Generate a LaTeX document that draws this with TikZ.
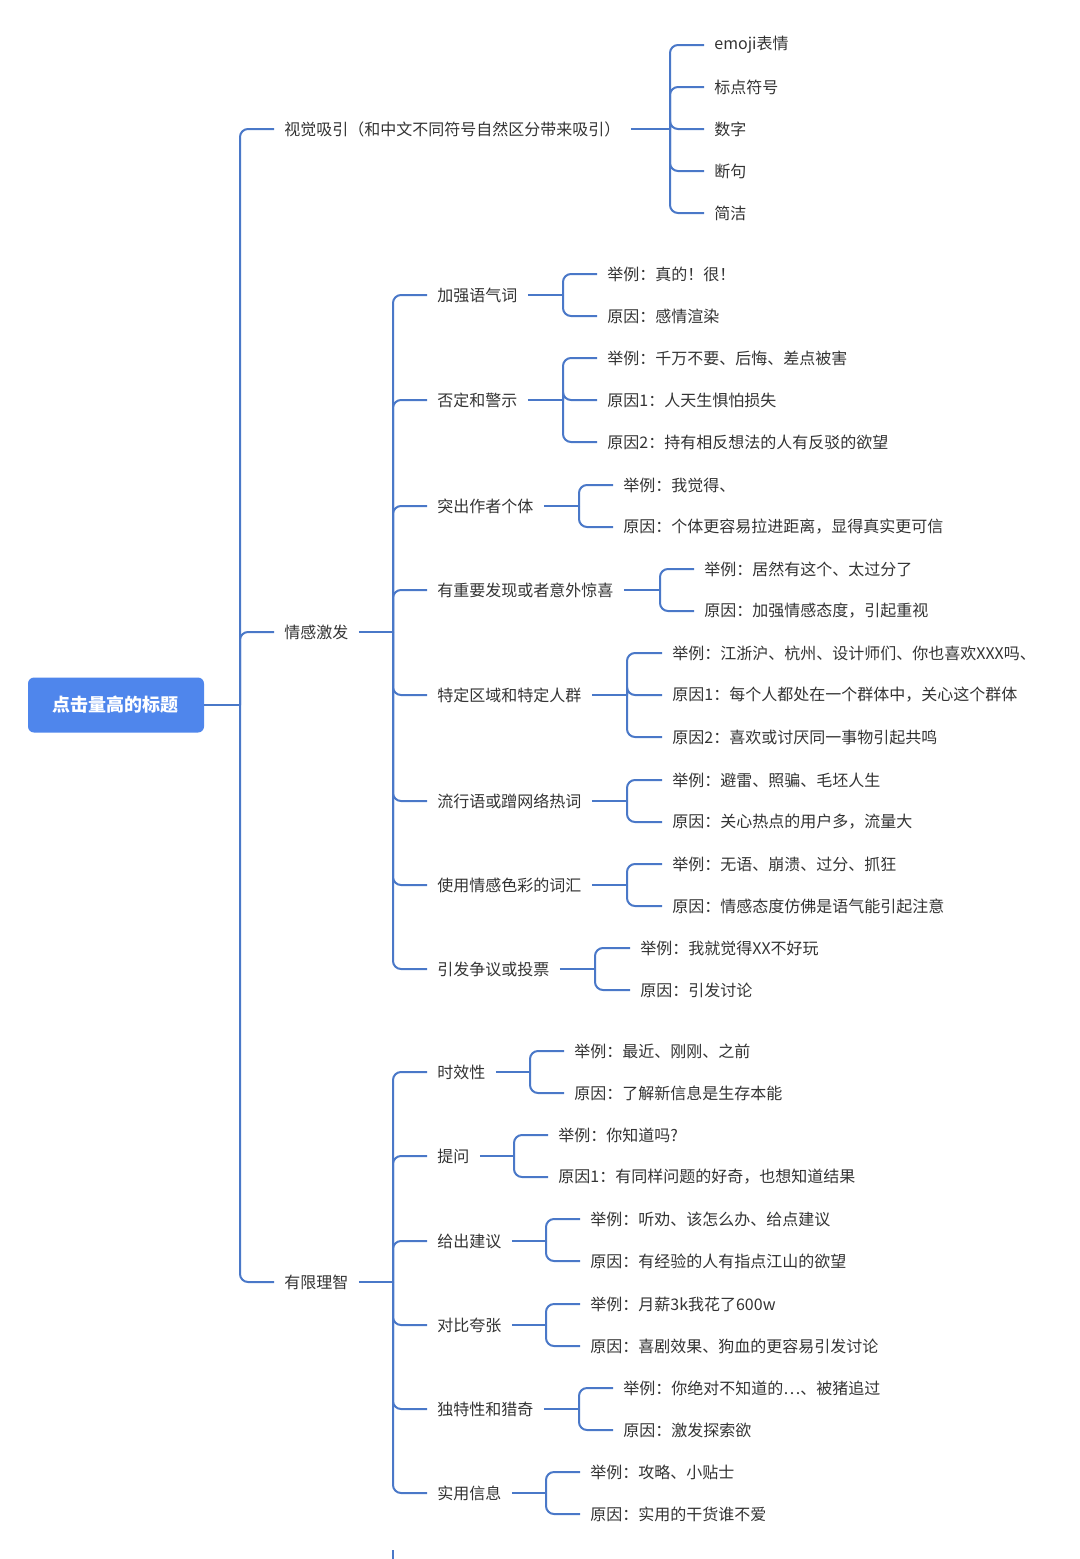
\documentclass[tikz,border=0pt]{standalone}
\usepackage{fontspec}
\setmainfont{Noto Sans CJK SC}
\begin{document}
\begin{tikzpicture}[x=0.5pt,y=-0.5pt,
  ln/.style={draw=lc,line width=1pt},
  t/.style={anchor=west,inner xsep=5pt,inner ysep=1pt,text=tc,font=\fontsize{8}{10}\selectfont}]
\definecolor{lc}{HTML}{4A78C8}
\definecolor{tc}{HTML}{333333}
\definecolor{rc}{HTML}{4F86EC}
\useasboundingbox (0,0) rectangle (1080,1559);
\newcommand\tr[2]{\draw[ln] (#1.east) -- (#1.east -| #2,0);}
\newcommand\ed[3]{\draw[ln,rounded corners=4pt] (#1.east -| #2,0) |- (#3.west);}
\node[fill=rc,rounded corners=3pt,minimum width=88pt,minimum height=27.5pt,text=white,font=\fontsize{9}{11}\selectfont\bfseries] (root) at (116,705) {点击量高的标题};
% level 1
\node[t] (a) at (274,129) {视觉吸引（和中文不同符号自然区分带来吸引）};
\node[t] (b) at (274,632) {情感激发};
\node[t] (c) at (274,1282) {有限理智};
\tr{root}{240}\ed{root}{240}{a}\ed{root}{240}{b}\ed{root}{240}{c}
% a
\node[t] (a1) at (704,45) {emoji表情};
\node[t] (a2) at (704,87) {标点符号};
\node[t] (a3) at (704,129) {数字};
\node[t] (a4) at (704,171) {断句};
\node[t] (a5) at (704,213) {简洁};
\tr{a}{670}\ed{a}{670}{a1}\ed{a}{670}{a2}\ed{a}{670}{a3}\ed{a}{670}{a4}\ed{a}{670}{a5}
% b
\node[t] (b1) at (427,295) {加强语气词};
\node[t] (b2) at (427,400) {否定和警示};
\node[t] (b3) at (427,506) {突出作者个体};
\node[t] (b4) at (427,590) {有重要发现或者意外惊喜};
\node[t] (b5) at (427,695) {特定区域和特定人群};
\node[t] (b6) at (427,801) {流行语或蹭网络热词};
\node[t] (b7) at (427,885) {使用情感色彩的词汇};
\node[t] (b8) at (427,969) {引发争议或投票};
\tr{b}{393}
\foreach \n in {b1,b2,b3,b4,b5,b6,b7,b8}{\ed{b}{393}{\n}}
\node[t] (b11) at (597,274) {举例：真的！很！};
\node[t] (b12) at (597,316) {原因：感情渲染};
\tr{b1}{563}\ed{b1}{563}{b11}\ed{b1}{563}{b12}
\node[t] (b21) at (597,358) {举例：千万不要、后悔、差点被害};
\node[t] (b22) at (597,400) {原因1：人天生惧怕损失};
\node[t] (b23) at (597,442) {原因2：持有相反想法的人有反驳的欲望};
\tr{b2}{563}\ed{b2}{563}{b21}\ed{b2}{563}{b22}\ed{b2}{563}{b23}
\node[t] (b31) at (613,485) {举例：我觉得、};
\node[t] (b32) at (613,527) {原因：个体更容易拉进距离，显得真实更可信};
\tr{b3}{579}\ed{b3}{579}{b31}\ed{b3}{579}{b32}
\node[t] (b41) at (694,569) {举例：居然有这个、太过分了};
\node[t] (b42) at (694,611) {原因：加强情感态度，引起重视};
\tr{b4}{660}\ed{b4}{660}{b41}\ed{b4}{660}{b42}
\node[t] (b51) at (662,653) {举例：江浙沪、杭州、设计师们、你也喜欢XXX吗、};
\node[t] (b52) at (662,695) {原因1：每个人都处在一个群体中，关心这个群体};
\node[t] (b53) at (662,737) {原因2：喜欢或讨厌同一事物引起共鸣};
\tr{b5}{627}\ed{b5}{627}{b51}\ed{b5}{627}{b52}\ed{b5}{627}{b53}
\node[t] (b61) at (662,780) {举例：避雷、照骗、毛坯人生};
\node[t] (b62) at (662,822) {原因：关心热点的用户多，流量大};
\tr{b6}{627}\ed{b6}{627}{b61}\ed{b6}{627}{b62}
\node[t] (b71) at (662,864) {举例：无语、崩溃、过分、抓狂};
\node[t] (b72) at (662,906) {原因：情感态度仿佛是语气能引起注意};
\tr{b7}{627}\ed{b7}{627}{b71}\ed{b7}{627}{b72}
\node[t] (b81) at (630,948) {举例：我就觉得XX不好玩};
\node[t] (b82) at (630,990) {原因：引发讨论};
\tr{b8}{595}\ed{b8}{595}{b81}\ed{b8}{595}{b82}
% c
\node[t] (c1) at (427,1072) {时效性};
\node[t] (c2) at (427,1156) {提问};
\node[t] (c3) at (427,1241) {给出建议};
\node[t] (c4) at (427,1325) {对比夸张};
\node[t] (c5) at (427,1409) {独特性和猎奇};
\node[t] (c6) at (427,1493) {实用信息};
\tr{c}{393}
\foreach \n in {c1,c2,c3,c4,c5,c6}{\ed{c}{393}{\n}}
\coordinate (cs) at (393,1550);
\coordinate (ce) at (393,1570);
\draw[ln] (cs) -- (ce);
\node[t] (c11) at (564,1051) {举例：最近、刚刚、之前};
\node[t] (c12) at (564,1093) {原因：了解新信息是生存本能};
\tr{c1}{530}\ed{c1}{530}{c11}\ed{c1}{530}{c12}
\node[t] (c21) at (548,1135) {举例：你知道吗?};
\node[t] (c22) at (548,1177) {原因1：有同样问题的好奇，也想知道结果};
\tr{c2}{514}\ed{c2}{514}{c21}\ed{c2}{514}{c22}
\node[t] (c31) at (580,1219) {举例：听劝、该怎么办、给点建议};
\node[t] (c32) at (580,1261) {原因：有经验的人有指点江山的欲望};
\tr{c3}{546}\ed{c3}{546}{c31}\ed{c3}{546}{c32}
\node[t] (c41) at (580,1304) {举例：月薪3k我花了600w};
\node[t] (c42) at (580,1346) {原因：喜剧效果、狗血的更容易引发讨论};
\tr{c4}{546}\ed{c4}{546}{c41}\ed{c4}{546}{c42}
\node[t] (c51) at (613,1388) {举例：你绝对不知道的…、被猪追过};
\node[t] (c52) at (613,1430) {原因：激发探索欲};
\tr{c5}{579}\ed{c5}{579}{c51}\ed{c5}{579}{c52}
\node[t] (c61) at (580,1472) {举例：攻略、小贴士};
\node[t] (c62) at (580,1514) {原因：实用的干货谁不爱};
\tr{c6}{546}\ed{c6}{546}{c61}\ed{c6}{546}{c62}
\end{tikzpicture}
\end{document}
